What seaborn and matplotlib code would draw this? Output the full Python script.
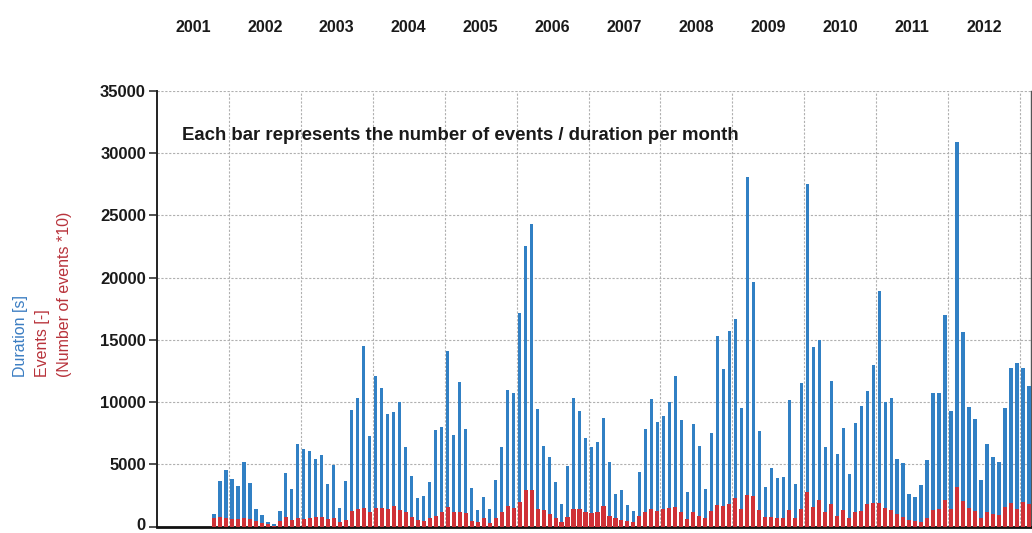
import numpy as np
import pandas as pd
import matplotlib
matplotlib.use("Agg")
import matplotlib.pyplot as plt
import matplotlib.transforms as mtransforms
import seaborn as sns

# ---------------- data (monthly, Oct 2001 .. Feb 2013) ----------------
first_month = "2001-10"
last_month = "2013-02"
years = [str(y) for y in range(2001, 2013)]

duration_s = [
    # 2001 Oct-Dec
    1000, 3690, 4570,
    # 2002
    3820, 3280, 5190, 3470, 1400, 940, 350, 190, 1260, 4330, 3010, 6670,
    # 2003
    6240, 6050, 5410, 5780, 3420, 4980, 1530, 3690, 9330, 10360, 14500, 7260,
    # 2004
    12100, 11160, 9070, 9170, 10030, 6430, 4090, 2290, 2470, 3580, 7770, 7990,
    # 2005
    14070, 7340, 11650, 7880, 3070, 1350, 2390, 1460, 3720, 6370, 11010, 10750,
    # 2006
    17120, 22560, 24280, 9420, 6500, 5570, 3580, 1860, 4910, 10350, 9290, 7090,
    # 2007
    6370, 6820, 8760, 5230, 2650, 2970, 1780, 1250, 4380, 7830, 10220, 8410,
    # 2008
    8890, 10010, 12080, 8550, 2790, 8230, 6450, 3000, 7560, 15310, 12660, 15740,
    # 2009
    16640, 9550, 28050, 19640, 7700, 3180, 4700, 3900, 3980, 10170, 3400, 11550,
    # 2010
    27520, 14460, 14990, 6370, 11680, 5840, 7960, 4250, 8360, 9690, 10880, 13000,
    # 2011
    18920, 10010, 10300, 5440, 5100, 2650, 2390, 3320, 5390, 10750, 10750, 16990,
    # 2012
    9290, 30870, 15610, 9610, 8630, 3770, 6640, 5570, 5180, 9550, 12740, 13140,
    # 2013 Jan-Feb
    12740, 11280,
]

events_x10 = [
    # 2001 Oct-Dec
    670, 750, 670,
    # 2002
    620, 620, 730, 620, 460, 320, 190, 80, 460, 810, 540, 670,
    # 2003
    620, 670, 810, 750, 620, 730, 350, 540, 1260, 1430, 1480, 1160,
    # 2004
    1530, 1480, 1430, 1670, 1350, 1210, 810, 540, 460, 670, 890, 1210,
    # 2005
    1610, 1160, 1160, 1080, 460, 350, 660, 270, 720, 1190, 1670, 1510,
    # 2006
    1990, 2920, 2970, 1460, 1330, 980, 660, 400, 800, 1460, 1410, 1190,
    # 2007
    1060, 1140, 1670, 880, 720, 530, 450, 400, 880, 1190, 1460, 1250,
    # 2008
    1460, 1510, 1590, 1190, 610, 1190, 880, 660, 1250, 1780, 1670, 1860,
    # 2009
    2310, 1460, 2520, 2470, 1330, 800, 800, 660, 660, 1330, 660, 1460,
    # 2010
    2790, 1590, 2120, 1190, 1860, 880, 1330, 660, 1140, 1250, 1860, 1940,
    # 2011
    1940, 1510, 1330, 980, 800, 530, 450, 400, 720, 1330, 1460, 2120,
    # 2012
    1460, 3180, 2040, 1510, 1250, 720, 1140, 980, 930, 1590, 1940, 1460,
    # 2013 Jan-Feb
    1990, 1860,
]

months = pd.period_range(first_month, last_month, freq="M")
month_idx = np.array([(p.year - 2001) * 12 + p.month - 1 for p in months])
df = pd.DataFrame({"m": month_idx, "duration": duration_s, "events": events_x10})

# ---------------- style ----------------
sns.set_style("white")
plt.rcParams["font.family"] = ["Liberation Sans", "DejaVu Sans"]

BLUE = "#3180c4"
RED = "#cf3137"

fig = plt.figure(figsize=(10.32, 5.33), dpi=100)
W, H = 1032, 533
ax_l, ax_r, ax_t, ax_b = 157, 1031, 90.7, 526.7
ax = fig.add_axes([ax_l / W, (H - ax_b) / H, (ax_r - ax_l) / W, (ax_b - ax_t) / H])

sns.barplot(data=df, x="m", y="duration", native_scale=True, color=BLUE,
            width=0.55, errorbar=None, saturation=1, ax=ax, zorder=3,
            linewidth=0)
sns.barplot(data=df, x="m", y="events", native_scale=True, color=RED,
            width=0.68, errorbar=None, saturation=1, ax=ax, zorder=4,
            linewidth=0)

px_per_month = (1020 - ax_l) / 144.0
ax.set_xlim(-0.5, -0.5 + (ax_r - ax_l) / px_per_month)
ax.set_ylim(0, 35000)

# y axis
ax.set_yticks(np.arange(0, 35001, 5000))
ax.set_yticklabels([str(v) for v in range(0, 35001, 5000)],
                   fontsize=12, fontweight="bold", color="#1a1a1a")
ax.tick_params(axis="y", direction="out", length=6, width=1.2,
               color="#333333", pad=2, left=True)
# keep the "0" label inside the canvas (nudge up a few pixels)
zero_lbl = ax.get_yticklabels()[0]
zero_lbl.set_transform(zero_lbl.get_transform() +
                       mtransforms.ScaledTranslation(0, 3 / 100, fig.dpi_scale_trans))

# top year labels; year boundary grid as minor ticks
ax.xaxis.tick_top()
ax.set_xticks([12 * k + 5.5 for k in range(len(years))])
ax.set_xticklabels(years, fontsize=11.5, fontweight="bold", color="#1a1a1a")
ax.set_xticks([12 * k - 0.5 for k in range(1, 13)], minor=True)
ax.tick_params(axis="x", which="both", length=0, pad=40, top=True, bottom=False)
ax.set_xlabel("")
ax.set_ylabel("")

ax.grid(False)
ax.xaxis.grid(True, which="minor", linestyle=(0, (2, 1.5)), color="#b0b0b0",
              linewidth=0.8, zorder=0)
ax.yaxis.grid(True, which="major", linestyle=(0, (2, 1.5)), color="#b0b0b0",
              linewidth=0.8, zorder=0)
ax.set_axisbelow(True)

ax.spines["top"].set_visible(False)
ax.spines["left"].set_color("#222222")
ax.spines["left"].set_linewidth(1.4)
ax.spines["bottom"].set_color("#111111")
ax.spines["bottom"].set_linewidth(2.0)
ax.spines["right"].set_color("#555555")
ax.spines["right"].set_linewidth(1.0)

ax.text((182 - ax_l) / (ax_r - ax_l), (ax_b - 135) / (ax_b - ax_t),
        "Each bar represents the number of events / duration per month",
        transform=ax.transAxes, ha="left", va="center",
        fontsize=13.4, fontweight="bold", color="#1a1a1a")

# multi-coloured y label
ybot = (H - 377) / H
fig.text(21 / W, ybot, "Duration [s]", rotation=90, ha="center", va="bottom",
         fontsize=11.5, color="#3b7dc2")
fig.text(43 / W, ybot, "Events [-]", rotation=90, ha="center", va="bottom",
         fontsize=11.5, color="#b8333b")
fig.text(65 / W, ybot, "(Number of events *10)", rotation=90, ha="center",
         va="bottom", fontsize=11.5, color="#b8333b")

fig.savefig("out.png", dpi=100)
